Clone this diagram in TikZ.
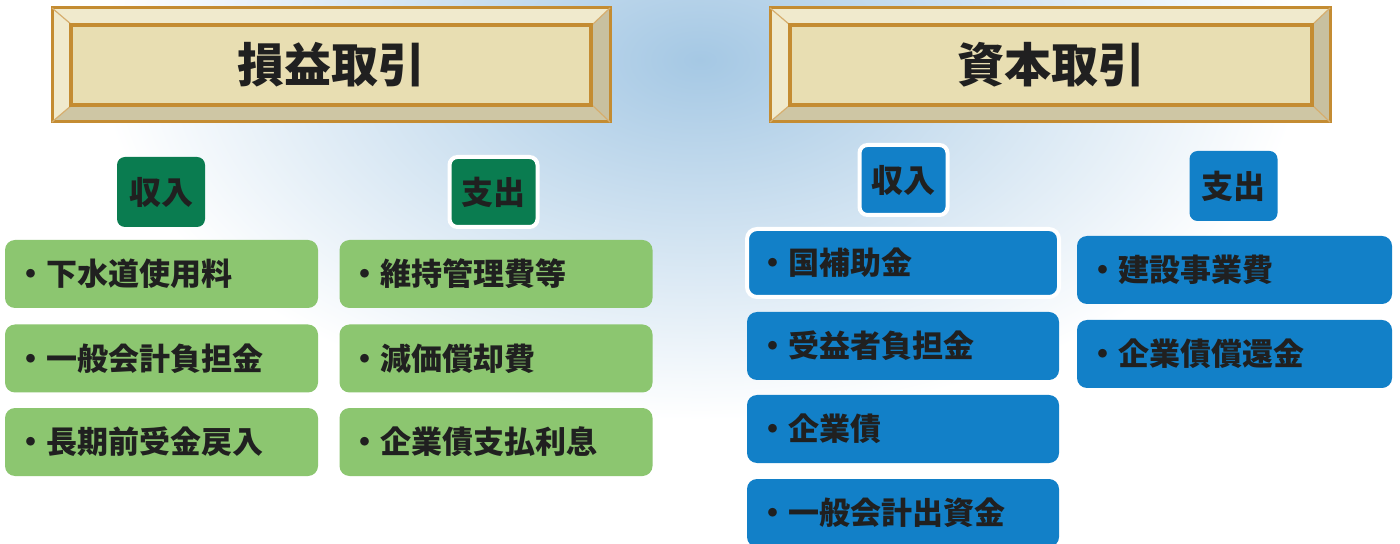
\documentclass[tikz,border=0pt]{standalone}
\usepackage{fontspec}
\newfontfamily\cjk{Noto Sans CJK JP}
\definecolor{bgblue}{RGB}{165,200,228}
\definecolor{gold}{RGB}{196,140,50}
\definecolor{cream}{RGB}{232,222,178}
\definecolor{creamlt}{RGB}{240,234,205}
\definecolor{bevelgray}{RGB}{200,192,160}
\definecolor{dgreen}{RGB}{10,124,80}
\definecolor{lgreen}{RGB}{140,198,112}
\definecolor{mblue}{RGB}{18,128,200}
\definecolor{ink}{RGB}{32,32,32}
\tikzset{
  titlepanel/.style={fill=cream, draw=gold, line width=2pt, inner sep=0pt},
  titletext/.style={font=\cjk\bfseries\fontsize{23.5}{26}\selectfont, text=ink, inner sep=0pt},
  hdr/.style={rounded corners=4pt, minimum width=44pt, minimum height=35pt, inner sep=0pt,
              font=\cjk\bfseries\fontsize{16}{18}\selectfont, text=ink},
  hdrG/.style={hdr, fill=dgreen},
  hdrB/.style={hdr, fill=mblue},
  halo/.style={draw=white, line width=2pt},
  item/.style={rounded corners=5pt, minimum height=34pt, inner xsep=5pt, inner ysep=0pt,
               align=left, font=\cjk\bfseries\fontsize{15.5}{18}\selectfont, text=ink},
  itemG/.style={item, fill=lgreen, minimum width=156.5pt, text width=146.5pt},
  itemB/.style={item, fill=mblue, minimum width=156pt, text width=146pt},
}
\begin{document}
\begin{tikzpicture}[x=0.5pt,y=-0.5pt]
\useasboundingbox (0,0) rectangle (1400,544);
\fill[white] (0,0) rectangle (1400,544);
\shade[inner color=bgblue, outer color=white] (700,60) ellipse [x radius=600, y radius=360];
% ---- left title
\fill[creamlt, draw=gold, line width=1.5pt] (52,8) rectangle (610,122);
\fill[bevelgray] (592,25) -- (610,8) -- (610,122) -- (592,105) -- cycle;
\fill[bevelgray!80!cream] (72,105) -- (592,105) -- (610,122) -- (52,122) -- cycle;
\draw[gold, line width=1.5pt] (52,8) rectangle (610,122);
\draw[gold!70, line width=0.6pt] (52,8) -- (72,25) (610,8) -- (592,25) (52,122) -- (72,105) (610,122) -- (592,105);
\node[titlepanel, minimum width=260pt, minimum height=40pt] (tL) at (331,65) {};
\node[titletext] (tLtext) at (tL.center) {損益取引};
% ---- right title
\fill[creamlt, draw=gold, line width=1.5pt] (770,8) rectangle (1330,122);
\fill[bevelgray] (1312,25) -- (1330,8) -- (1330,122) -- (1312,105) -- cycle;
\fill[bevelgray!80!cream] (790,105) -- (1312,105) -- (1330,122) -- (770,122) -- cycle;
\draw[gold, line width=1.5pt] (770,8) rectangle (1330,122);
\draw[gold!70, line width=0.6pt] (770,8) -- (790,25) (1330,8) -- (1312,25) (770,122) -- (790,105) (1330,122) -- (1312,105);
\node[titlepanel, minimum width=261pt, minimum height=40pt] (tR) at (1051,65) {};
\node[titletext] (tRtext) at (tR.center) {資本取引};
% ---- green headers
\node[hdrG] (gIn) at (161,192) {収入};
\node[hdrG, halo] (gOut) at (493.5,192) {支出};
% ---- green items
\node[itemG] (g1) at (161.5,274) {・下水道使用料};
\node[itemG] (g2) at (161.5,358.5) {・一般会計負担金};
\node[itemG] (g3) at (161.5,442) {・長期前受金戻入};
\node[itemG] (g4) at (496,274) {・維持管理費等};
\node[itemG] (g5) at (496,358.5) {・減価償却費};
\node[itemG] (g6) at (496,442) {・企業債支払利息};
% ---- blue headers
\node[hdrB, halo] (bIn) at (903.5,180) {収入};
\node[hdrB] (bOut) at (1233.5,186) {支出};
% ---- blue items
\node[itemB, halo] (b1) at (903,263) {・国補助金};
\node[itemB] (b2) at (903,346) {・受益者負担金};
\node[itemB] (b3) at (903,429) {・企業債};
\node[itemB] (b4) at (903,513) {・一般会計出資金};
\node[itemB, minimum width=157.5pt, text width=147.5pt] (b5) at (1234.5,270) {・建設事業費};
\node[itemB, minimum width=157.5pt, text width=147.5pt] (b6) at (1234.5,354) {・企業債償還金};
\end{tikzpicture}
\end{document}
